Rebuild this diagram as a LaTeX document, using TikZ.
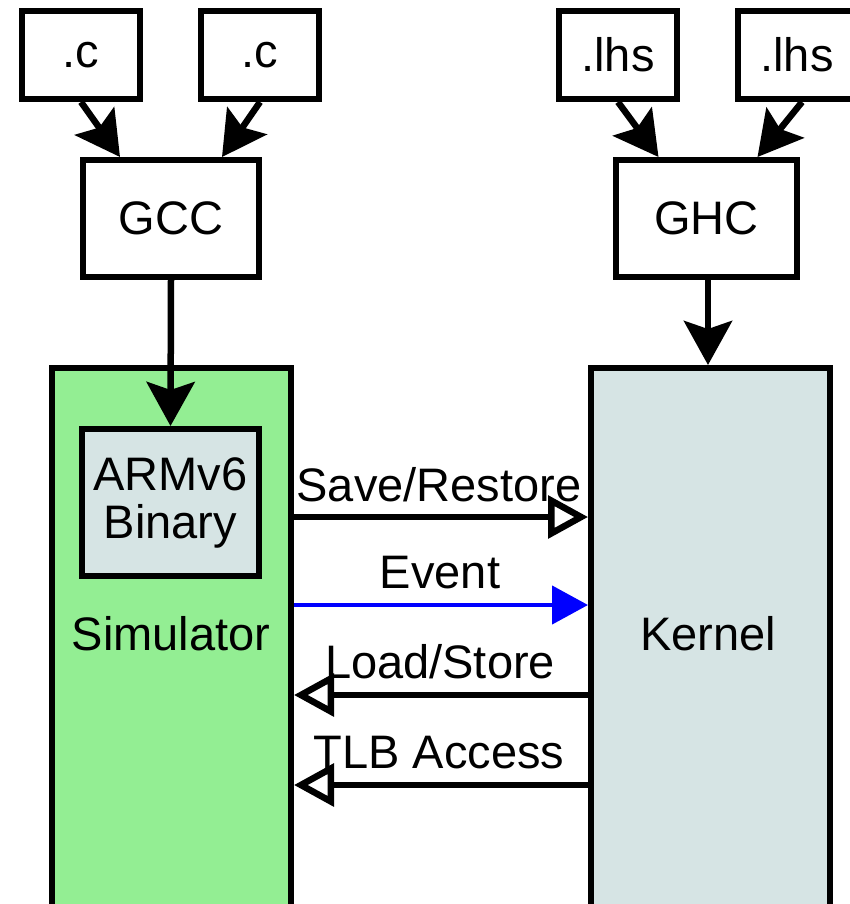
\documentclass[tikz,border=0pt]{standalone}
\usepackage{fontspec}
\setmainfont{Liberation Sans}
\usetikzlibrary{arrows.meta}
\definecolor{simgreen}{RGB}{147,238,147}
\definecolor{kergray}{RGB}{214,228,228}
\begin{document}
\begin{tikzpicture}[x=1pt,y=-1pt,
  every node/.style={font=\fontsize{47}{48}\selectfont},
  box/.style={draw, line width=6pt, inner sep=0pt, minimum width=118pt, minimum height=88pt},
  bigbox/.style={draw, line width=6pt, inner sep=0pt, minimum width=239pt, minimum height=560pt},
  lbl/.style={anchor=base, inner sep=0pt},
  conn/.style={line width=6.5pt, -{Stealth[length=44pt,width=48pt,inset=8pt]}},
  openarr/.style={line width=6.5pt, -{Triangle[open,length=40pt,width=42pt,fill=white]}},
  bluearr/.style={line width=4.5pt, draw=blue, -{Triangle[length=36pt,width=38pt,fill=blue]}}]
\useasboundingbox (0,0) rectangle (850,904);
\clip (0,0) rectangle (850,904);
% source boxes
\node[box] (c1) at (81,55) {.c};
\node[box] (c2) at (260,55) {.c};
\node[box] (l1) at (618,55) {.lhs};
\node[box] (l2) at (797,55) {.lhs};
% compilers
\node[box, minimum width=176pt, minimum height=117pt] (gcc) at (171,218.5) {GCC};
\node[box, minimum width=181pt, minimum height=117pt] (ghc) at (706.5,218.5) {GHC};
% simulator and kernel
\node[bigbox, fill=simgreen] (sim) at (171.5,648) {};
\node[bigbox, fill=kergray] (ker) at (710.5,648) {};
\node[box, fill=kergray, minimum width=177pt, minimum height=147pt, align=center] (arm) at (170.5,502.5) {ARMv6\\Binary};
\node[lbl] (simlbl) at (171,650) {Simulator};
\node[lbl] (kerlbl) at (708,650) {Kernel};
% compile arrows
\draw[conn] (c1.south) -- ([xshift=-51pt]gcc.north);
\draw[conn] (c2.south) -- ([xshift=51pt]gcc.north);
\draw[conn] (l1.south) -- ([xshift=-48pt]ghc.north);
\draw[conn] ([xshift=5pt]l2.south) -- ([xshift=51pt]ghc.north);
\draw[conn] (gcc.south) -- (arm.north);
\draw[conn] ([xshift=1.5pt]ghc.south) -- ([xshift=1.5pt]ghc.south |- ker.north);
% interface arrows
\draw[openarr] (sim.east |- 0,517) -- (ker.west |- 0,517);
\draw[bluearr] (sim.east |- 0,605) -- (ker.west |- 0,605);
\draw[openarr] (ker.west |- 0,695) -- (sim.east |- 0,695);
\draw[openarr] (ker.west |- 0,785) -- (sim.east |- 0,785);
\node[lbl] (lsave) at (439,501) {Save/Restore};
\node[lbl] (levent) at (440,588) {Event};
\node[lbl] (lload) at (440,678) {Load/Store};
\node[lbl] (ltlb) at (439,768) {TLB Access};
\end{tikzpicture}
\end{document}
